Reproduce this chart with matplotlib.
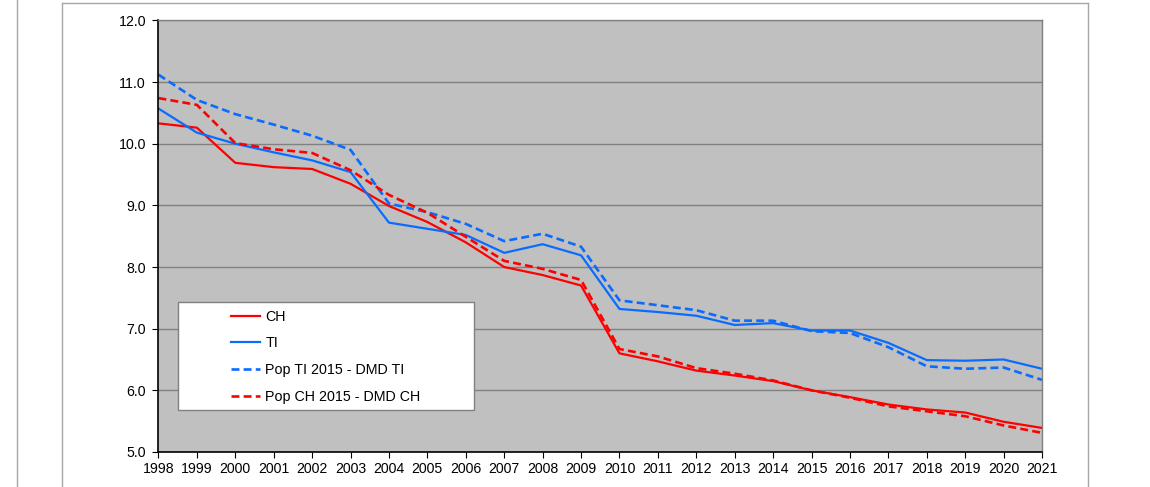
import matplotlib
matplotlib.use("Agg")
import matplotlib.pyplot as plt
from matplotlib.lines import Line2D
from matplotlib.patches import Rectangle

plt.rcParams["font.family"] = ["Liberation Sans", "DejaVu Sans"]

years = list(range(1998, 2022))
ch = [10.33, 10.26, 9.69, 9.62, 9.59, 9.35, 8.99, 8.73, 8.40, 8.00, 7.87, 7.70,
      6.60, 6.47, 6.32, 6.24, 6.15, 6.00, 5.89, 5.77, 5.69, 5.64, 5.49, 5.39]
ti = [10.57, 10.18, 10.00, 9.86, 9.73, 9.54, 8.72, 8.62, 8.52, 8.23, 8.37, 8.19,
      7.32, 7.27, 7.21, 7.06, 7.09, 6.97, 6.97, 6.77, 6.49, 6.48, 6.50, 6.35]
pop_ti = [11.12, 10.71, 10.48, 10.31, 10.13, 9.90, 9.03, 8.89, 8.70, 8.42, 8.54, 8.33,
          7.46, 7.38, 7.30, 7.13, 7.13, 6.96, 6.93, 6.70, 6.39, 6.35, 6.37, 6.17]
pop_ch = [10.74, 10.63, 10.01, 9.91, 9.85, 9.57, 9.17, 8.88, 8.49, 8.10, 7.97, 7.79,
          6.67, 6.55, 6.36, 6.27, 6.16, 6.00, 5.88, 5.74, 5.66, 5.58, 5.43, 5.31]

red = "#FF0000"
blue = "#0A6CFF"

fig = plt.figure(figsize=(11.5, 4.87), dpi=100)
ax = fig.add_axes([0.1378, 0.0719, 0.7683, 0.8862])
ax.set_facecolor("#C0C0C0")

lw = 1.6
ax.plot(years, ch, color=red, lw=lw, label="CH")
ax.plot(years, ti, color=blue, lw=lw, label="TI")
ax.plot(years, pop_ti, color=blue, lw=lw + 0.3, ls=(0, (3, 1.6)), label="Pop TI 2015 - DMD TI")
ax.plot(years, pop_ch, color=red, lw=lw + 0.3, ls=(0, (3, 1.6)), label="Pop CH 2015 - DMD CH")

ax.set_xlim(1998, 2021)
ax.set_ylim(5, 12)
ax.set_xticks(years)
ax.set_yticks([5, 6, 7, 8, 9, 10, 11, 12])
ax.set_yticklabels(["%.1f" % v for v in [5, 6, 7, 8, 9, 10, 11, 12]])
ax.yaxis.grid(True, color="#808080", lw=1.0)
ax.set_axisbelow(True)
ax.tick_params(labelsize=10.2, length=4, width=0.8, color="#000000")
ax.tick_params(axis="y", pad=5)
ax.tick_params(axis="x", pad=3)

for s in ["top", "right"]:
    ax.spines[s].set_color("#808080")
    ax.spines[s].set_linewidth(1.0)
for s in ["left", "bottom"]:
    ax.spines[s].set_color("#000000")
    ax.spines[s].set_linewidth(1.2)

# legend box
ax.add_patch(Rectangle((0.0221, 0.0973), 0.3349, 0.2503, transform=ax.transAxes,
                       facecolor="white", edgecolor="#808080", lw=1.0, zorder=5))
leg = ax.legend(loc="upper left", bbox_to_anchor=(0.082, 0.33), frameon=False,
                fontsize=10.3, handlelength=2.05, handletextpad=0.35, labelspacing=0.9,
                borderpad=0, borderaxespad=0)
leg.set_zorder(6)

# outer frame lines
gc = "#A6A6A6"
fig.add_artist(Line2D([17 / 1150, 17 / 1150], [0, 1], color=gc, lw=1.0))
fig.add_artist(Line2D([62 / 1150, 62 / 1150], [0, 1 - 3 / 487], color=gc, lw=1.0))
fig.add_artist(Line2D([62 / 1150, 1088 / 1150], [1 - 3 / 487, 1 - 3 / 487], color=gc, lw=1.0))
fig.add_artist(Line2D([1088 / 1150, 1088 / 1150], [0, 1 - 3 / 487], color=gc, lw=1.0))

fig.savefig("out.png", dpi=100)
